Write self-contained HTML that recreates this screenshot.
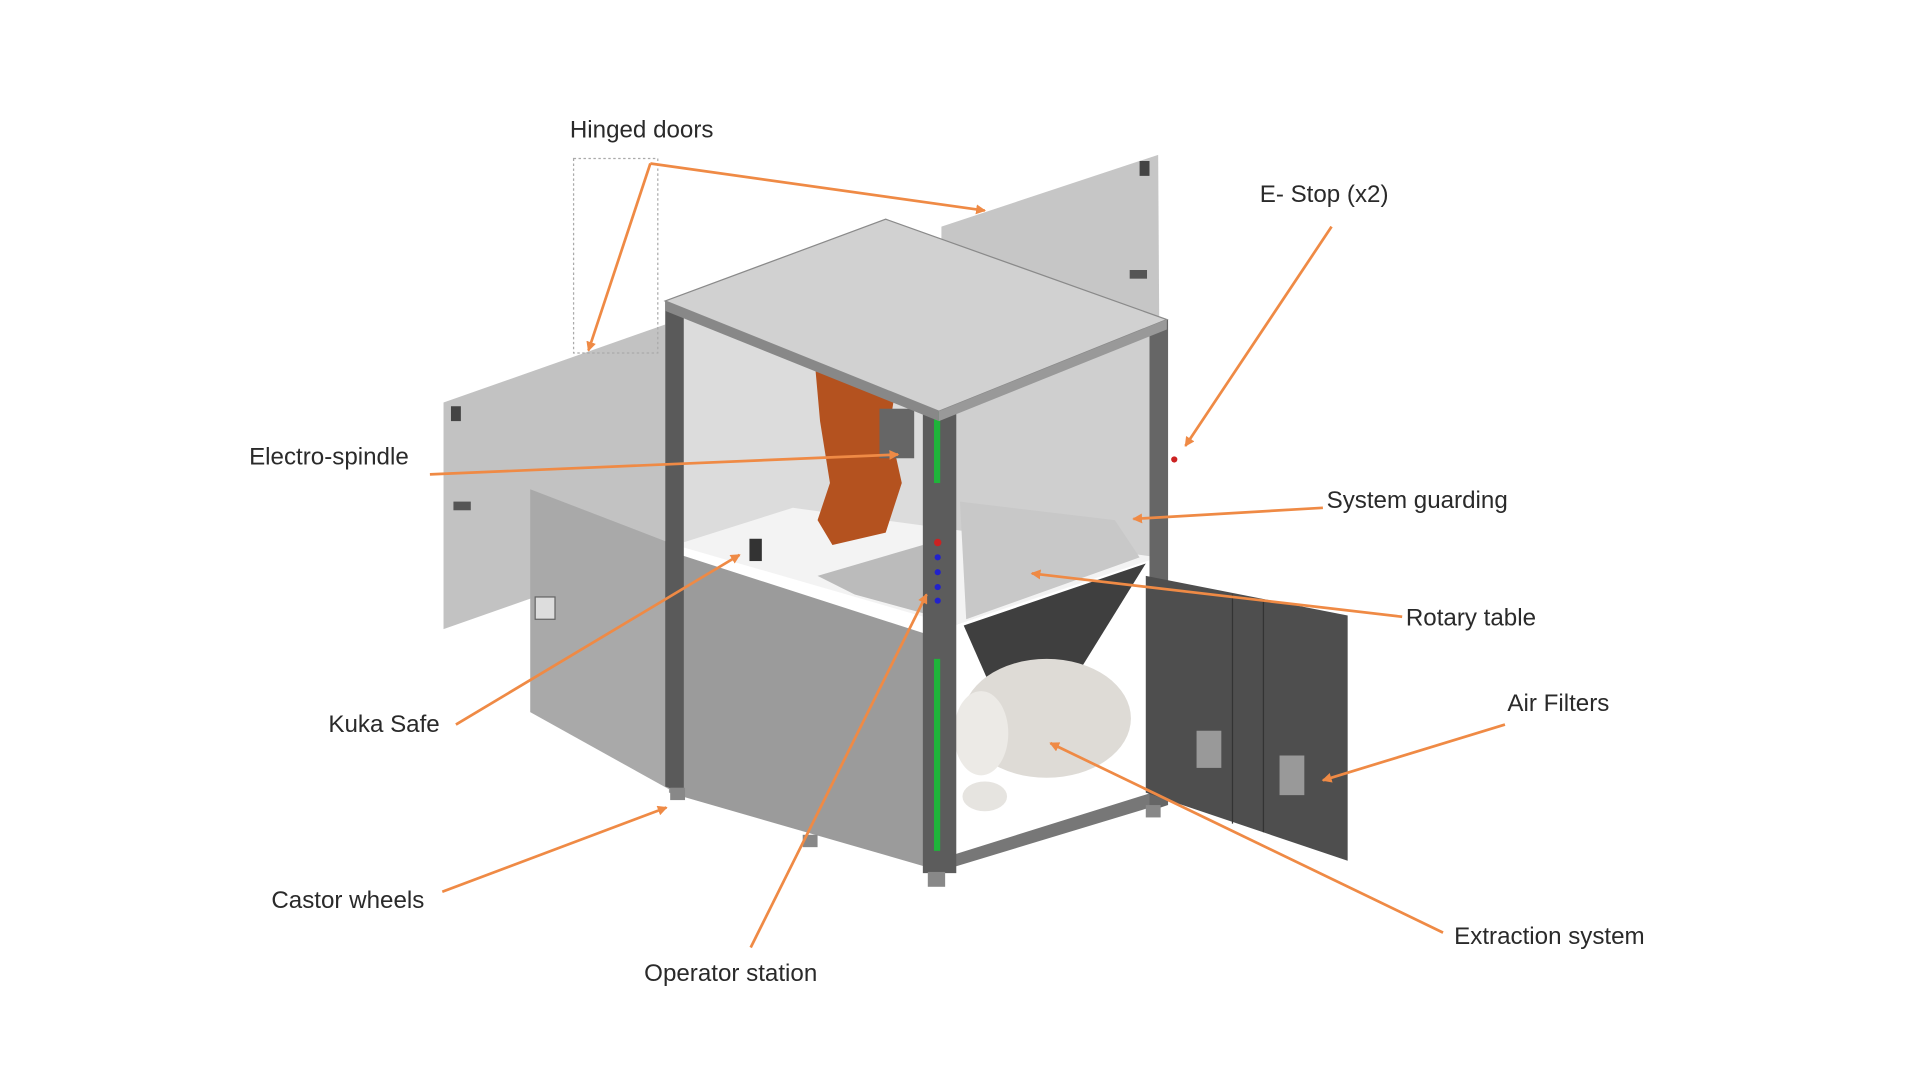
<!DOCTYPE html>
<html><head><meta charset="utf-8"><style>html,body{margin:0;padding:0;background:#fff;width:1920px;height:1080px;overflow:hidden}svg text{font-family:"Liberation Sans",sans-serif;font-size:19.5px;fill:#2a2a2a}</style></head>
<body>
<svg width="1920" height="1080" viewBox="0 0 1550 872" xmlns="http://www.w3.org/2000/svg">
<defs><marker id="a" markerWidth="8" markerHeight="8" refX="7" refY="4" orient="auto" markerUnits="userSpaceOnUse"><path d="M0,0 L8,4 L0,8 z" fill="#ef8a45"/></marker></defs>
<polygon points="760,183 935,125 937,440 760,470" fill="#c6c6c6"/>
<polygon points="358,325 537,262 537,445 358,508" fill="#c2c2c2"/>
<rect x="364" y="328" width="8" height="12" fill="#444"/>
<rect x="366" y="405" width="14" height="7" fill="#555"/>
<rect x="920" y="130" width="8" height="12" fill="#444"/>
<rect x="912" y="218" width="14" height="7" fill="#555"/>
<polygon points="428,395 545,440 545,640 428,575" fill="#a9a9a9"/>
<rect x="432" y="482" width="16" height="18" fill="#ddd" stroke="#666"/>
<polygon points="552,255 748,330 748,470 552,440" fill="#dcdcdc"/>
<polygon points="770,325 932,265 932,450 770,505" fill="#cfcfcf"/>
<polygon points="545,440 640,410 935,450 770,505" fill="#f3f3f3"/>
<polygon points="660,465 745,440 745,495 690,480" fill="#bbb"/>
<polygon points="775,405 900,420 920,450 780,500" fill="#c8c8c8"/>
<polygon points="658,295 705,300 722,320 718,345 728,390 715,430 672,440 660,420 670,390 662,340" fill="#b4521f"/>
<rect x="710" y="330" width="28" height="40" fill="#666"/>
<polygon points="540,445 748,512 748,700 540,640" fill="#9b9b9b"/>
<polygon points="778,505 925,455 860,560 800,555" fill="#3f3f3f"/>
<ellipse cx="845" cy="580" rx="68" ry="48" fill="#dedbd6"/>
<ellipse cx="792" cy="592" rx="22" ry="34" fill="#eceae6"/>
<ellipse cx="795" cy="643" rx="18" ry="12" fill="#e6e4e0"/>
<polygon points="770,690 930,640 935,650 770,700" fill="#777"/>
<polygon points="537,243 552,250 552,640 537,635" fill="#5a5a5a"/>
<polygon points="745,325 772,318 772,705 745,705" fill="#5c5c5c"/>
<polygon points="928,262 943,258 943,650 928,655" fill="#666"/>
<rect x="754" y="328" width="5" height="62" fill="#1fb43a"/>
<rect x="754" y="532" width="5" height="155" fill="#1fb43a"/>
<circle cx="757" cy="438" r="3" fill="#c22"/>
<circle cx="757" cy="450" r="2.5" fill="#22c"/><circle cx="757" cy="462" r="2.5" fill="#22c"/><circle cx="757" cy="474" r="2.5" fill="#22c"/><circle cx="757" cy="485" r="2.5" fill="#22c"/>
<polygon points="537,243 715,177 942,258 758,332" fill="#d1d1d1" stroke="#8a8a8a"/>
<polygon points="537,243 758,332 758,340 537,251" fill="#888"/>
<polygon points="758,332 942,258 942,266 758,340" fill="#999"/>
<polygon points="925,465 1088,497 1088,695 925,640" fill="#4e4e4e"/>
<line x1="995" y1="480" x2="995" y2="665" stroke="#333"/><line x1="1020" y1="484" x2="1020" y2="672" stroke="#333"/>
<rect x="966" y="590" width="20" height="30" fill="#999"/><rect x="1033" y="610" width="20" height="32" fill="#999"/>
<rect x="605" y="435" width="10" height="18" fill="#333"/>
<circle cx="948" cy="371" r="2.5" fill="#c22"/>
<rect x="541" y="636" width="12" height="10" fill="#888"/><rect x="648" y="674" width="12" height="10" fill="#888"/><rect x="749" y="704" width="14" height="12" fill="#888"/><rect x="925" y="650" width="12" height="10" fill="#888"/>
<rect x="463" y="128" width="68" height="157" fill="none" stroke="#aaa" stroke-dasharray="2,2"/>
<g stroke="#ef8a45" stroke-width="2.2" fill="none" marker-end="url(#a)">
<line x1="525" y1="132" x2="475" y2="283"/>
<line x1="525" y1="132" x2="795" y2="170"/>
<line x1="1075" y1="183" x2="957" y2="360"/>
<line x1="347" y1="383" x2="725" y2="367"/>
<line x1="1068" y1="410" x2="915" y2="419"/>
<line x1="1132" y1="498" x2="833" y2="463"/>
<line x1="368" y1="585" x2="597" y2="448"/>
<line x1="1215" y1="585" x2="1068" y2="630"/>
<line x1="357" y1="720" x2="538" y2="652"/>
<line x1="606" y1="765" x2="748" y2="480"/>
<line x1="1165" y1="753" x2="848" y2="600"/>
</g>
<text x="460" y="111">Hinged doors</text>
<text x="1017" y="163">E- Stop (x2)</text>
<text x="201" y="375">Electro-spindle</text>
<text x="1071" y="410">System guarding</text>
<text x="1135" y="505">Rotary table</text>
<text x="265" y="591">Kuka Safe</text>
<text x="1217" y="574">Air Filters</text>
<text x="219" y="733">Castor wheels</text>
<text x="520" y="792">Operator station</text>
<text x="1174" y="762">Extraction system</text>
</svg>
</body></html>
